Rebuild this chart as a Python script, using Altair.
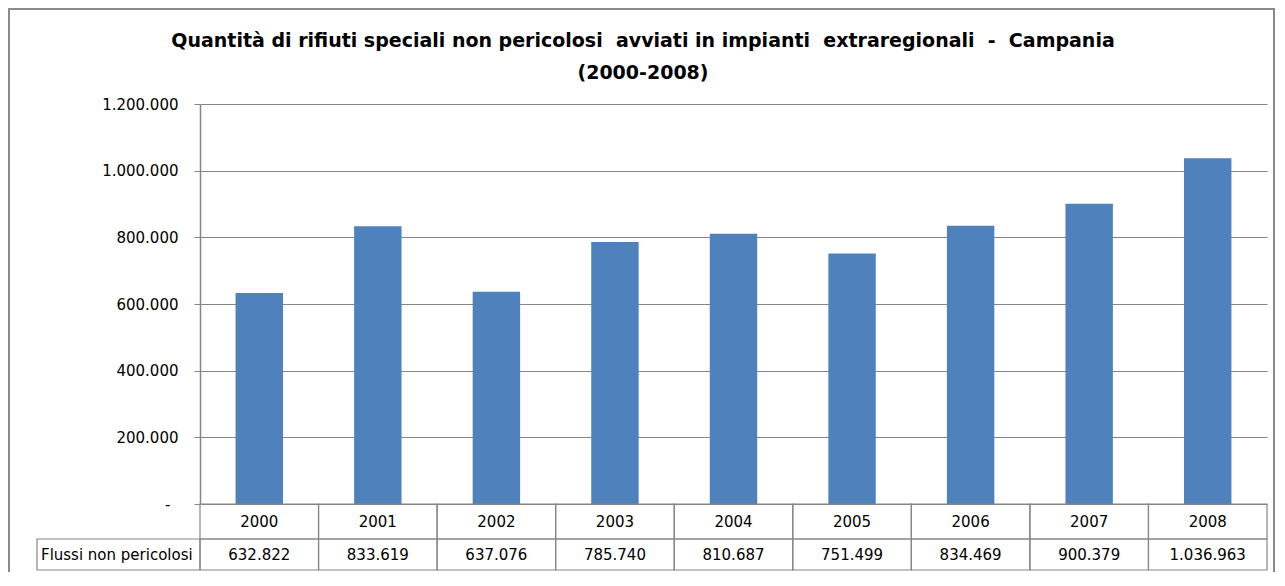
import altair as alt
import pandas as pd

years = ["2000", "2001", "2002", "2003", "2004", "2005", "2006", "2007", "2008"]
values = [632822, 833619, 637076, 785740, 810687, 751499, 834469, 900379, 1036963]
row_label = "Flussi non pericolosi"
title_line1 = "Quantità di rifiuti speciali non pericolosi\u00a0 avviati in impianti\u00a0 extraregionali\u00a0 -\u00a0 Campania"
title_line2 = "(2000-2008)"
y_ticks = [0, 200000, 400000, 600000, 800000, 1000000, 1200000]

def it_fmt(v):
    return f"{v:,}".replace(",", ".")

df = pd.DataFrame({"year": years, "value": values, "label": [it_fmt(v) for v in values]})
one = pd.DataFrame({"k": [0]})

W, H = 1067, 400
PAD_L, PAD_T, PAD_R, PAD_B = 192, 96, 8, 68
FONT = "DejaVu Sans"
GRAY = "#868686"
BLUE = "#4F81BD"

xenc = alt.X("year:N", sort=years, axis=None,
             scale=alt.Scale(paddingInner=0, paddingOuter=0))

base = alt.Chart(df)

bars = base.mark_bar(color=BLUE, width=alt.RelativeBandSize(0.4)).encode(
    x=xenc,
    y=alt.Y("value:Q",
            scale=alt.Scale(domain=[0, 1200000], nice=False),
            axis=alt.Axis(values=y_ticks, title=None, grid=True, gridColor=GRAY,
                          gridWidth=1, domainColor=GRAY, domainWidth=1.5,
                          tickColor=GRAY, tickSize=6,
                          labelPadding={"condition": {"test": "datum.value == 0", "value": 24},
                                        "value": 16},
                          labelFont=FONT, labelFontSize=15, labelColor="#000000",
                          labelExpr="datum.value == 0 ? '-' : "
                                    "replace(replace(format(datum.value, ','), ',', '.'), ',', '.')")),
)

year_cells = base.mark_rect(fillOpacity=0, stroke=GRAY, strokeWidth=1.2).encode(
    x=xenc, y=alt.value(H), y2=alt.value(H + 35))
year_text = base.mark_text(font=FONT, fontSize=15, color="#000000", baseline="middle").encode(
    x=xenc, y=alt.value(H + 18), text="year:N")
val_cells = base.mark_rect(fillOpacity=0, stroke=GRAY, strokeWidth=1.2).encode(
    x=xenc, y=alt.value(H + 35), y2=alt.value(H + 66))
val_text = base.mark_text(font=FONT, fontSize=15, color="#000000", baseline="middle").encode(
    x=xenc, y=alt.value(H + 51), text="label:N")

hdr = pd.DataFrame({"t": [row_label]})
hdr_cell = alt.Chart(hdr).mark_rect(fillOpacity=0, stroke=GRAY, strokeWidth=1.2).encode(
    x=alt.value(-163), x2=alt.value(0), y=alt.value(H + 35), y2=alt.value(H + 66))
hdr_text = alt.Chart(hdr).mark_text(font=FONT, fontSize=15, color="#000000",
                                    align="left", baseline="middle").encode(
    x=alt.value(-159), y=alt.value(H + 51), text="t:N")

t1 = alt.Chart(pd.DataFrame({"t": [title_line1]})).mark_text(
    font=FONT, fontSize=19, fontWeight="bold", color="#000000",
    align="center", baseline="alphabetic").encode(x=alt.value(443), y=alt.value(-57), text="t:N")
t2 = alt.Chart(pd.DataFrame({"t": [title_line2]})).mark_text(
    font=FONT, fontSize=19, fontWeight="bold", color="#000000",
    align="center", baseline="alphabetic").encode(x=alt.value(443), y=alt.value(-25), text="t:N")

border = alt.Chart(one).mark_rect(fillOpacity=0, stroke="#8a8a8a", strokeWidth=2).encode(
    x=alt.value(-PAD_L + 1), x2=alt.value(W + PAD_R - 1),
    y=alt.value(-PAD_T + 1), y2=alt.value(H + 120))

chart = alt.layer(border, bars, year_cells, year_text, val_cells, val_text,
                  hdr_cell, hdr_text, t1, t2).properties(
    width=W, height=H,
    autosize=alt.AutoSizeParams(type="none"),
    padding={"left": PAD_L, "top": PAD_T, "right": PAD_R, "bottom": PAD_B},
    background="white",
).configure_view(stroke=None)

chart.save("out.html", embed_options={"renderer": "svg", "actions": False})
